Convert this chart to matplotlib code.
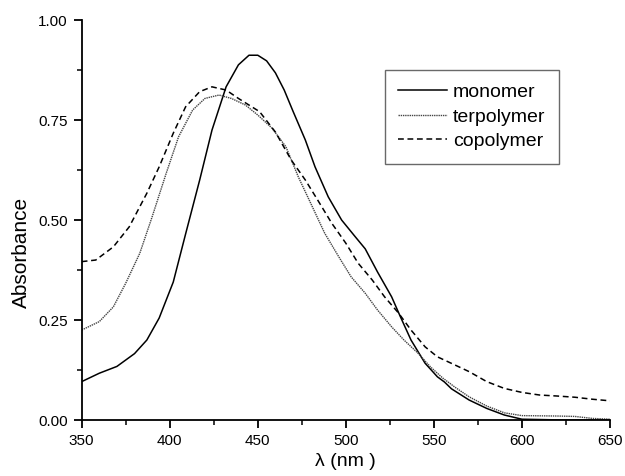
import numpy as np
import matplotlib
matplotlib.use('Agg')
import matplotlib.pyplot as plt
from matplotlib.ticker import MultipleLocator, FormatStrFormatter

plt.rcParams['font.family'] = ['Liberation Sans', 'DejaVu Sans']

# values
mono_wl = [350, 360, 370, 380, 387, 394, 402, 409, 417, 424, 432, 439, 445, 450,
           455, 460, 465, 470, 477, 482.5, 490, 497.6, 505, 511, 518, 526, 531,
           537, 545, 552, 556, 560, 570, 580, 590, 600, 625, 650]
mono_abs = [0.096, 0.117, 0.134, 0.166, 0.20, 0.255, 0.345, 0.465, 0.60, 0.725,
            0.833, 0.888, 0.912, 0.912, 0.898, 0.868, 0.825, 0.772, 0.70, 0.633,
            0.558, 0.50, 0.46, 0.428, 0.37, 0.308, 0.258, 0.20, 0.142, 0.108,
            0.095, 0.078, 0.05, 0.029, 0.0125, 0.002, 0.0, 0.0]

ter_wl = [350, 360, 368, 375, 383, 390, 398, 405, 413, 420, 428, 435, 443, 450,
          458, 466, 473, 481, 488, 496, 503, 511, 518, 526, 533, 541, 548, 555,
          562, 570, 580, 590, 600, 620, 630, 640, 650]
ter_abs = [0.225, 0.246, 0.283, 0.342, 0.417, 0.508, 0.617, 0.708, 0.775, 0.804,
           0.8125, 0.804, 0.7875, 0.7625, 0.73, 0.683, 0.608, 0.533, 0.467,
           0.408, 0.358, 0.317, 0.275, 0.233, 0.20, 0.167, 0.133, 0.105, 0.082,
           0.058, 0.035, 0.018, 0.011, 0.01, 0.009, 0.004, 0.002]

co_wl = [350, 358, 368, 377, 387, 394, 402, 409, 417, 424, 432, 439, 451, 460,
         469, 477, 484, 492, 500, 507, 515, 522, 530, 537, 545, 552, 562, 570,
         580, 590, 600, 610, 620, 630, 640, 650]
co_abs = [0.396, 0.40, 0.433, 0.483, 0.567, 0.633, 0.717, 0.783, 0.821, 0.833,
          0.825, 0.804, 0.771, 0.72, 0.65, 0.60, 0.55, 0.492, 0.442, 0.392,
          0.35, 0.308, 0.267, 0.225, 0.183, 0.158, 0.1375, 0.121, 0.096, 0.079,
          0.069, 0.0625, 0.06, 0.057, 0.052, 0.048]

fig = plt.figure(figsize=(6.25, 4.76), dpi=100)
ax = fig.add_axes([0.1307, 0.1176, 0.8453, 0.8403])

ax.plot(mono_wl, mono_abs, color='black', lw=1.1, label='monomer')
ax.plot(ter_wl, ter_abs, color='#444444', lw=1.0, linestyle=(0, (1, 0.6)), label='terpolymer')
ax.plot(co_wl, co_abs, color='black', lw=1.1, linestyle=(0, (3.8, 2.4)), label='copolymer')

ax.set_xlim(350, 650)
ax.set_ylim(0, 1.0)
ax.xaxis.set_major_locator(MultipleLocator(50))
ax.xaxis.set_minor_locator(MultipleLocator(25))
ax.yaxis.set_major_locator(MultipleLocator(0.25))
ax.yaxis.set_minor_locator(MultipleLocator(0.125))
ax.yaxis.set_major_formatter(FormatStrFormatter('%.2f'))

for side in ['top', 'right']:
    ax.spines[side].set_visible(False)
for side in ['left', 'bottom']:
    ax.spines[side].set_linewidth(1.3)
ax.tick_params(which='major', direction='out', length=6, width=1.3, labelsize=11, pad=4)
ax.tick_params(which='minor', direction='out', length=3.5, width=1.1)

ax.set_xlabel('λ (nm )', fontsize=14, labelpad=4)
ax.set_ylabel('Absorbance', fontsize=15, labelpad=5)
ax.yaxis.label.set_y(0.42)

leg = ax.legend(loc='upper right', bbox_to_anchor=(0.9035, 0.875), borderaxespad=0,
                fontsize=14, handlelength=2.5, handletextpad=0.3, labelspacing=0.35,
                frameon=True, fancybox=False, borderpad=0.7)
leg.get_frame().set_edgecolor('#444444')
leg.get_frame().set_linewidth(1.0)

fig.savefig('out.png', dpi=100)
